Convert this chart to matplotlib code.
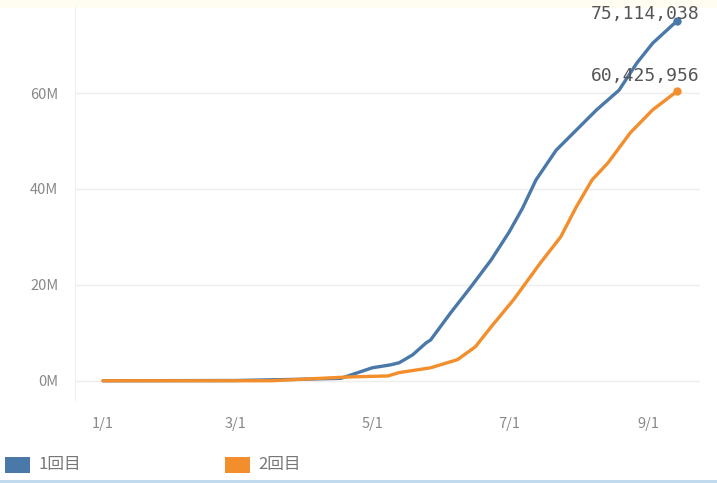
import matplotlib
matplotlib.use('Agg')
import matplotlib.pyplot as plt
from matplotlib.patches import Rectangle
import pandas as pd

plt.rcParams['font.family'] = ['Noto Sans CJK JP', 'DejaVu Sans']

# cumulative doses, millions
first_dates = ['2021-01-01', '2021-03-01', '2021-03-29', '2021-04-17', '2021-05-01',
               '2021-05-09', '2021-05-13', '2021-05-19', '2021-05-25', '2021-05-27',
               '2021-06-05', '2021-06-14', '2021-06-23', '2021-07-01', '2021-07-07',
               '2021-07-13', '2021-07-22', '2021-08-09', '2021-08-19', '2021-08-27',
               '2021-09-03', '2021-09-14']
first_vals = [0.0, 0.05, 0.3, 0.5, 2.7,
              3.3, 3.75, 5.4, 7.9, 8.5,
              14.2, 19.6, 25.2, 31.0, 36.0,
              41.9, 48.1, 56.5, 60.6, 66.3,
              70.4, 75.114038]

second_dates = ['2021-01-01', '2021-03-17', '2021-04-21', '2021-05-08', '2021-05-13',
                '2021-05-27', '2021-06-08', '2021-06-16', '2021-06-23', '2021-07-03',
                '2021-07-15', '2021-07-24', '2021-07-31', '2021-08-07', '2021-08-14',
                '2021-08-24', '2021-09-03', '2021-09-14']
second_vals = [0.0, 0.0, 0.8, 1.0, 1.7,
               2.7, 4.4, 7.1, 11.25, 16.9,
               24.6, 30.0, 36.3, 41.9, 45.4,
               51.7, 56.5, 60.425956]

series_names = ['1回目', '2回目']
colors = ['#4a78a9', '#f28e2b']
tick_dates = ['2021-01-01', '2021-03-01', '2021-05-01', '2021-07-01', '2021-09-01']
tick_labels = ['1/1', '3/1', '5/1', '7/1', '9/1']
y_ticks = [0, 20, 40, 60]

start = pd.Timestamp('2021-01-01')


def to_days(dates):
    return [(pd.Timestamp(d) - start).days for d in dates]


fig = plt.figure(figsize=(7.17, 4.83), dpi=100)
# faint warm band along the top edge
fig.add_artist(Rectangle((0, 0.984), 1, 0.016, transform=fig.transFigure,
                         color='#fffcf2', lw=0, zorder=0))
ax = fig.add_axes([0.1046, 0.172, 0.8714, 0.814])
ax.patch.set_alpha(0)

series = [(first_dates, first_vals), (second_dates, second_vals)]
label_offsets = [(16, 5), (16, 11)]
for (dates, vals), name, c, off in zip(series, series_names, colors, label_offsets):
    days = to_days(dates)
    ax.plot(days, vals, color=c, lw=2.4, solid_capstyle='round',
            solid_joinstyle='round', label=name)
    ax.plot(days[-1], vals[-1], 'o', color=c, ms=5)
    ax.annotate(f'{round(vals[-1] * 1e6):,}', (days[-1], vals[-1]),
                xytext=off, textcoords='offset points', ha='right', va='center',
                fontsize=13, color='#555555', family='DejaVu Sans Mono')

ax.set_xlim(-12.5, 266)
ax.set_ylim(-4, 78)
ax.set_xticks(to_days(tick_dates))
ax.set_xticklabels(tick_labels)
ax.set_yticks(y_ticks)
ax.set_yticklabels([f'{v}M' for v in y_ticks])
ax.tick_params(length=0, labelsize=10.5, labelcolor='#888888', pad=12)
ax.tick_params(axis='y', pad=12)
ax.grid(axis='y', color='#eeeeee', lw=1)
for s in ['top', 'right', 'bottom']:
    ax.spines[s].set_visible(False)
ax.spines['left'].set_color('#f0f0f0')
ax.set_axisbelow(True)

# legend along the bottom: colour box then series name
legend_x = [5, 225]
for x, name, c in zip(legend_x, series_names, colors):
    fig.add_artist(Rectangle((x / 717, 10 / 483), 25 / 717, 16 / 483,
                             transform=fig.transFigure, color=c, lw=0))
    fig.text((x + 33) / 717, 18 / 483, name, fontsize=12, color='#777777',
             va='center', ha='left')

# thin border line at the bottom edge
fig.add_artist(plt.Line2D([0, 1], [0.004, 0.004], color='#bcd7ee', lw=2))

fig.savefig('out.png', dpi=100)
